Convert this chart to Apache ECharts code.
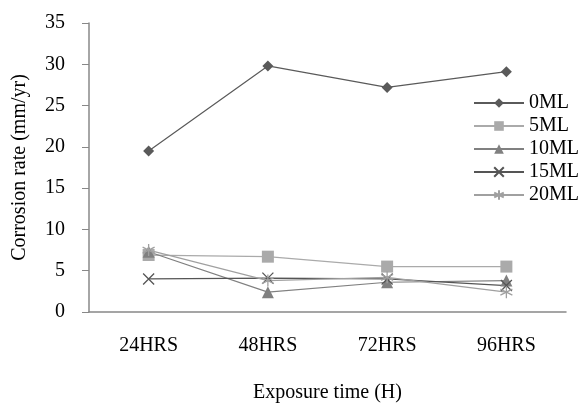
<!DOCTYPE html>
<html><head><meta charset="utf-8">
<script src="https://cdn.jsdelivr.net/npm/echarts@6/dist/echarts.min.js"></script>
<style>html,body{margin:0;padding:0;background:#fff}#c{width:582px;height:408px}</style>
</head><body><div id="c"></div>
<script>
var categories = ['24HRS','48HRS','72HRS','96HRS'];
var s0ML = [19.5, 29.8, 27.2, 29.1];
var s5ML = [6.9, 6.7, 5.5, 5.5];
var s10ML = [7.3, 2.4, 3.6, 3.8];
var s15ML = [4.0, 4.1, 4.0, 3.2];
var s20ML = [7.5, 3.8, 4.2, 2.4];
var yTicks = [0,5,10,15,20,25,30,35];

var font = 'Liberation Serif';
var xPath = 'path://M0,0L10,10M10,0L0,10';
var starPath = 'path://M5,0L5,10M0,2.5L10,7.5M10,2.5L0,7.5';
function mk(name, data, color, symbol, size, hollow){
  return {
    name: name, type: 'line', data: data, symbol: symbol, symbolSize: size,
    lineStyle: {color: color, width: 1.2},
    itemStyle: hollow ? {color: 'none', borderColor: color, borderWidth: 1.3} : {color: color},
    emphasis: {disabled: true}, animation: false
  };
}
var chart = echarts.init(document.getElementById('c'));
chart.setOption({
  backgroundColor: '#fff',
  animation: false,
  grid: {left: 89, right: 16, top: 23, bottom: 91},
  legend: {
    orient: 'vertical', left: 473, top: 93, padding: 0, itemGap: 3, itemWidth: 50, itemHeight: 12,
    textStyle: {fontFamily: font, fontSize: 20, color: '#000', lineHeight: 20},
    data: ['0ML','5ML','10ML','15ML','20ML']
  },
  xAxis: {
    type: 'category', data: categories, boundaryGap: true,
    axisLine: {lineStyle: {color: '#888', width: 1.5}},
    axisTick: {show: false},
    axisLabel: {fontFamily: font, fontSize: 20, color: '#000', margin: 24},
    name: 'Exposure time (H)', nameLocation: 'middle', nameGap: 71,
    nameTextStyle: {fontFamily: font, fontSize: 20, color: '#000'}
  },
  yAxis: {
    type: 'value', min: 0, max: 35, interval: 5,
    axisLine: {show: true, lineStyle: {color: '#888', width: 1.5}},
    axisTick: {show: true, length: 7, lineStyle: {color: '#888'}},
    splitLine: {show: false},
    axisLabel: {fontFamily: font, fontSize: 20, color: '#000', margin: 24},
    name: 'Corrosion rate (mm/yr)', nameLocation: 'middle', nameGap: 59,
    nameTextStyle: {fontFamily: font, fontSize: 20, color: '#000'}
  },
  series: [
    mk('0ML', s0ML, '#5a5a5a', 'diamond', 11, false),
    mk('5ML', s5ML, '#aaaaaa', 'rect', 12, false),
    mk('10ML', s10ML, '#808080', 'triangle', 12, false),
    mk('15ML', s15ML, '#555555', xPath, 11, true),
    mk('20ML', s20ML, '#a0a0a0', starPath, 12, true)
  ]
});
</script></body></html>
